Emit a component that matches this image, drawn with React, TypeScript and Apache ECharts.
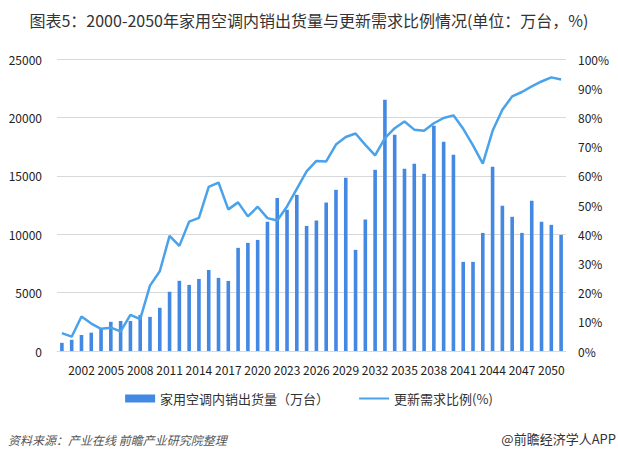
import React, { useEffect, useRef } from "react";
import * as echarts from "echarts";

const years: string[] = [];
for (let y = 2000; y <= 2051; y++) years.push(String(y));

const salesValues = [
  700, 960, 1370, 1570, 1900, 2500, 2570, 2570, 3090, 2920,
  3700, 5070, 6010, 5660, 6170, 6940, 6260, 6000, 8830, 9260,
  9510, 11060, 13110, 12090, 13370, 10710, 11170, 12710, 13800, 14830,
  8660, 11260, 15510, 21510, 18510, 15600, 16030, 15170, 19290, 17910,
  16800, 7630, 7630, 10110, 15770, 12430, 11490, 10110, 12860, 11060,
  10800, 9940,
];

const ratioValues = [
  6.1, 4.9, 11.8, 9.4, 7.6, 8.0, 6.7, 12.4, 10.9, 22.4,
  27.3, 39.4, 36.0, 44.3, 45.6, 56.2, 57.7, 48.5, 50.9, 46.1,
  49.4, 45.5, 44.7, 49.5, 55.5, 61.5, 65.1, 64.9, 70.7, 73.3,
  74.5, 70.6, 67.0, 72.9, 76.3, 78.6, 75.8, 75.4, 78.0, 79.8,
  80.7, 76.1, 70.4, 64.2, 75.4, 82.6, 87.2, 88.7, 90.6, 92.3,
  93.7, 93.0,
];

const titleText = "图表5：2000-2050年家用空调内销出货量与更新需求比例情况(单位：万台，%)";
const barName = "家用空调内销出货量（万台）";
const lineName = "更新需求比例(%)";
const sourceText = "资料来源：产业在线 前瞻产业研究院整理";
const brandText = "@前瞻经济学人APP";

const FONT = "'Noto Sans CJK SC', 'Noto Sans', sans-serif";

export default function App() {
  const ref = useRef<HTMLDivElement>(null);
  useEffect(() => {
    if (!ref.current) return;
    const chart = echarts.init(ref.current, undefined, { renderer: "svg" });
    chart.setOption({
      animation: false,
      backgroundColor: "#ffffff",
      textStyle: { fontFamily: FONT },
      title: {
        text: titleText,
        left: "center",
        top: 7,
        textStyle: { fontSize: 16, fontWeight: "normal", color: "#333333", fontFamily: FONT },
      },
      legend: {
        bottom: 51,
        left: "center",
        itemWidth: 30,
        itemHeight: 8,
        itemGap: 30,
        textStyle: { fontSize: 13, color: "#333333", fontFamily: FONT },
        data: [
          { name: barName, icon: "rect" },
          { name: lineName, icon: "path://M0,0 H30 V2 H0 Z" },
        ],
      },
      grid: { left: 57, right: 52, top: 59, bottom: 110 },
      xAxis: {
        type: "category",
        data: years,
        boundaryGap: true,
        axisLine: { show: true, lineStyle: { color: "#d9d9d9" } },
        axisTick: { show: false },
        axisLabel: {
          interval: (index: number) => index % 3 === 2,
          fontSize: 12,
          color: "#222222",
          margin: 12,
          fontFamily: FONT,
        },
      },
      yAxis: [
        {
          type: "value",
          min: 0,
          max: 25000,
          interval: 5000,
          axisLine: { show: false },
          axisTick: { show: false },
          axisLabel: {
            fontSize: 12,
            color: "#222222",
            margin: 15,
            fontFamily: FONT,
            formatter: (v: number) => String(v),
          },
          splitLine: { lineStyle: { color: "#d9d9d9" } },
        },
        {
          type: "value",
          min: 0,
          max: 100,
          interval: 10,
          axisLine: { show: false },
          axisTick: { show: false },
          axisLabel: { fontSize: 12, color: "#222222", margin: 12, formatter: "{value}%", fontFamily: FONT },
          splitLine: { show: false },
        },
      ],
      series: [
        {
          name: barName,
          type: "bar",
          data: salesValues,
          barWidth: 3.6,
          itemStyle: { color: "#4388E3" },
        },
        {
          name: lineName,
          type: "line",
          yAxisIndex: 1,
          data: ratioValues,
          symbol: "none",
          showSymbol: false,
          lineStyle: { color: "#4AA2EA", width: 2.5 },
          itemStyle: { color: "#4AA2EA" },
        },
      ],
      graphic: [
        {
          type: "text",
          left: 8,
          top: 433,
          style: {
            text: sourceText,
            fontSize: 12,
            fontStyle: "italic",
            fill: "#555555",
            fontFamily: FONT,
          },
        },
        {
          type: "text",
          right: 2,
          top: 432,
          style: {
            text: brandText,
            fontSize: 13,
            fill: "#333333",
            fontFamily: FONT,
          },
        },
      ],
    });
    return () => chart.dispose();
  }, []);
  return (
    <div
      ref={ref}
      style={{ position: "absolute", left: 0, top: 0, width: 618, height: 461 }}
    />
  );
}
